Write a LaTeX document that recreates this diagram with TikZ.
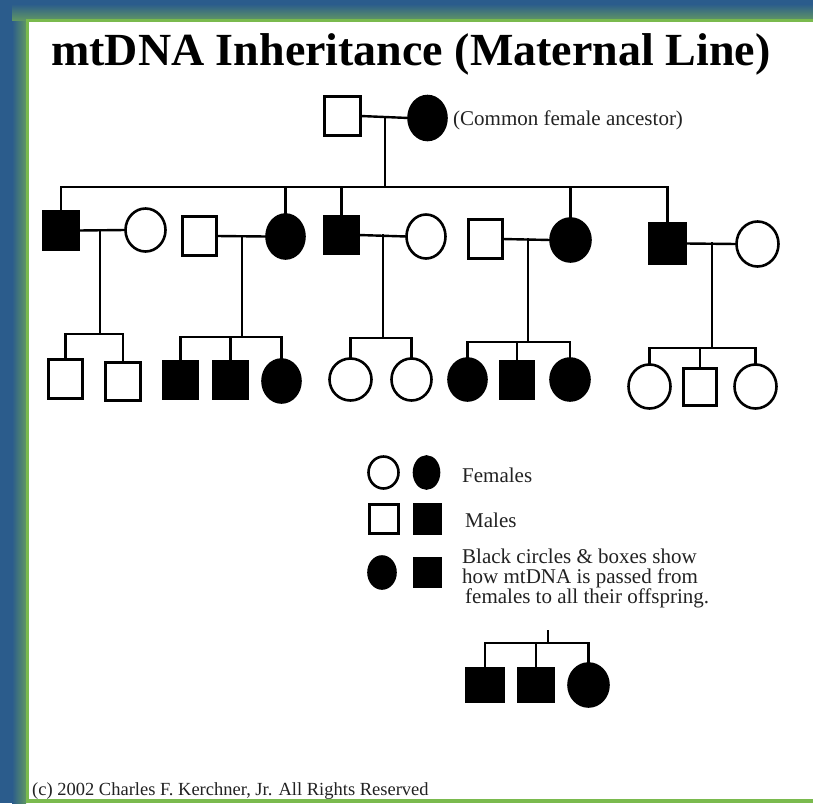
\documentclass[tikz,border=0pt]{standalone}
\usepackage{fontspec}
\setmainfont{Liberation Serif}
\usetikzlibrary{shapes.geometric}
\definecolor{frameblue}{RGB}{43,92,140}
\definecolor{framegreen}{RGB}{96,150,100}
\definecolor{lightgreen}{RGB}{122,186,78}
\definecolor{txtgray}{RGB}{34,34,34}
\tikzset{
  person/.style={draw=black, line width=2.6pt, inner sep=0pt, outer sep=0pt},
  male/.style={person, rectangle},
  female/.style={person, ellipse},
  aff/.style={fill=black},
  sz/.style 2 args={minimum width=#1pt, minimum height=#2pt},
  link/.style={line width=2.4pt, line cap=rect},
  lbl/.style={inner sep=0pt, text=txtgray, font=\fontsize{21}{20}\selectfont},
}
\begin{document}
\begin{tikzpicture}[x=1pt,y=-1pt]
\useasboundingbox (0,0) rectangle (813,803);
% frame
\fill[frameblue] (0,0) rectangle (813,803);
\shade[left color=frameblue, right color=framegreen] (12,8) rectangle (26,803);
\shade[top color=frameblue, bottom color=framegreen] (12,4) rectangle (813,20);
\fill[lightgreen] (26,19) rectangle (813,803);
\fill[white] (29,22) rectangle (813,799);

% title
\node[anchor=base west, inner sep=0pt, font=\bfseries\fontsize{46}{50}\selectfont] (title) at (51,65) {mtDNA Inheritance (Maternal Line)};

% generation 1
\node[male, sz={36}{39}] (g1m) at (342.5,116) {};
\node[female, aff, sz={38}{44}] (g1f) at (427.5,118) {};
\node[lbl, anchor=base west] (anc) at (453,125) {(Common female ancestor)};
\draw[link] (g1m.east) -- (g1f.west);
\coordinate (m1) at (385,117);
\coordinate (s1) at (385,187);
\draw[link] (m1) -- (s1);

% generation 2
\node[male, aff, sz={35}{38}] (a) at (61,230.5) {};
\node[female, sz={40}{43}] (b) at (145.5,230) {};
\node[male, sz={34}{39}] (c) at (199.5,236) {};
\node[female, aff, sz={38}{44}] (d) at (285.5,236.5) {};
\node[male, aff, sz={34}{37}] (e) at (341.5,235) {};
\node[female, sz={39}{44}] (f) at (426,236.5) {};
\node[male, sz={34}{39}] (g) at (485.5,239) {};
\node[female, aff, sz={40}{43}] (h) at (570.5,240) {};
\node[male, aff, sz={36}{40}] (i) at (667.5,243.5) {};
\node[female, sz={42}{45}] (j) at (757.5,244) {};

\draw[link] (a.north) -- (a.north |- s1) -- (i.north |- s1) -- (i.north);
\draw[link] (d.north) -- (d.north |- s1);
\draw[link] (e.north) -- (e.north |- s1);
\draw[link] (h.north) -- (h.north |- s1);

\draw[link] (a.east) -- (b.west);
\draw[link] (c.east) -- (d.west);
\draw[link] (e.east) -- (f.west);
\draw[link] (g.east) -- (h.west);
\draw[link] (i.east) -- (j.west);

% generation 3
\node[male, sz={34}{39}] (ab1) at (65.5,379) {};
\node[male, sz={35}{38}] (ab2) at (123,381.5) {};
\node[male, aff, sz={34}{37}] (cd1) at (180.5,380) {};
\node[male, aff, sz={34}{37}] (cd2) at (230.5,380) {};
\node[female, aff, sz={38}{43}] (cd3) at (281.5,381) {};
\node[female, sz={42}{42}] (ef1) at (350.5,379.5) {};
\node[female, sz={40}{42}] (ef2) at (411.5,379.5) {};
\node[female, aff, sz={38}{42}] (gh1) at (467.5,379.5) {};
\node[male, aff, sz={33}{37}] (gh2) at (517,380) {};
\node[female, aff, sz={39}{42}] (gh3) at (570,379.5) {};
\node[female, sz={42}{44}] (ij1) at (649.5,386.5) {};
\node[male, sz={33}{37}] (ij2) at (700,387) {};
\node[female, sz={42}{44}] (ij3) at (755.5,386.5) {};

% family a-b
\coordinate (mab) at (100,230);
\coordinate (sab) at (100,334);
\draw[link] (mab) -- (sab);
\draw[link] (ab1.north) -- (ab1.north |- sab) -- (ab2.north |- sab) -- (ab2.north);
% family c-d
\coordinate (mcd) at (242,236);
\coordinate (scd) at (242,337);
\draw[link] (mcd) -- (scd);
\draw[link] (cd1.north) -- (cd1.north |- scd) -- (cd3.north |- scd) -- (cd3.north);
\draw[link] (cd2.north) -- (cd2.north |- scd);
% family e-f
\coordinate (mef) at (383,235);
\coordinate (sef) at (383,338);
\draw[link] (mef) -- (sef);
\draw[link] (ef1.north) -- (ef1.north |- sef) -- (ef2.north |- sef) -- (ef2.north);
% family g-h
\coordinate (mgh) at (528,239);
\coordinate (sgh) at (528,342);
\draw[link] (mgh) -- (sgh);
\draw[link] (gh1.north) -- (gh1.north |- sgh) -- (gh3.north |- sgh) -- (gh3.north);
\draw[link] (gh2.north) -- (gh2.north |- sgh);
% family i-j
\coordinate (mij) at (712,243.5);
\coordinate (sij) at (712,348);
\draw[link] (mij) -- (sij);
\draw[link] (ij1.north) -- (ij1.north |- sij) -- (ij3.north |- sij) -- (ij3.north);
\draw[link] (ij2.north) -- (ij2.north |- sij);

% legend
\node[female, sz={30}{32}] (L1) at (383.5,472.5) {};
\node[female, aff, sz={25}{32}] (L2) at (426.5,472.5) {};
\node[lbl, anchor=base west] (lf) at (462,482) {Females};
\node[male, sz={29}{29}] (L3) at (384,519) {};
\node[male, aff, sz={26}{29}] (L4) at (427.5,519) {};
\node[lbl, anchor=base west] (lm) at (465,527) {Males};
\node[female, aff, sz={27}{32}] (L5) at (382,572.5) {};
\node[male, aff, sz={26}{28}] (L6) at (427.5,572.5) {};
\node[lbl, anchor=north west, align=left] (lt) at (462,548.5) {Black circles \& boxes show\\how mtDNA is passed from\\\hspace{3pt}females to all their offspring.};

% example
\node[male, aff, sz={37}{33}] (x1) at (485,685) {};
\node[male, aff, sz={35}{33}] (x2) at (536,685) {};
\node[female, aff, sz={40}{43}] (x3) at (588.5,685) {};
\coordinate (xt) at (548,630);
\coordinate (xs) at (548,643);
\draw[line width=1.4pt] (xt) -- (xs);
\draw[link] (x1.north) -- (x1.north |- xs) -- (x3.north |- xs) -- (x3.north);
\draw[link] (x2.north) -- (x2.north |- xs);

% copyright
\node[inner sep=0pt, anchor=base west, text=txtgray, font=\fontsize{18.5}{20}\selectfont] (copy) at (32,795) {(c) 2002 Charles F. Kerchner, Jr. All Rights Reserved};
\end{tikzpicture}
\end{document}
